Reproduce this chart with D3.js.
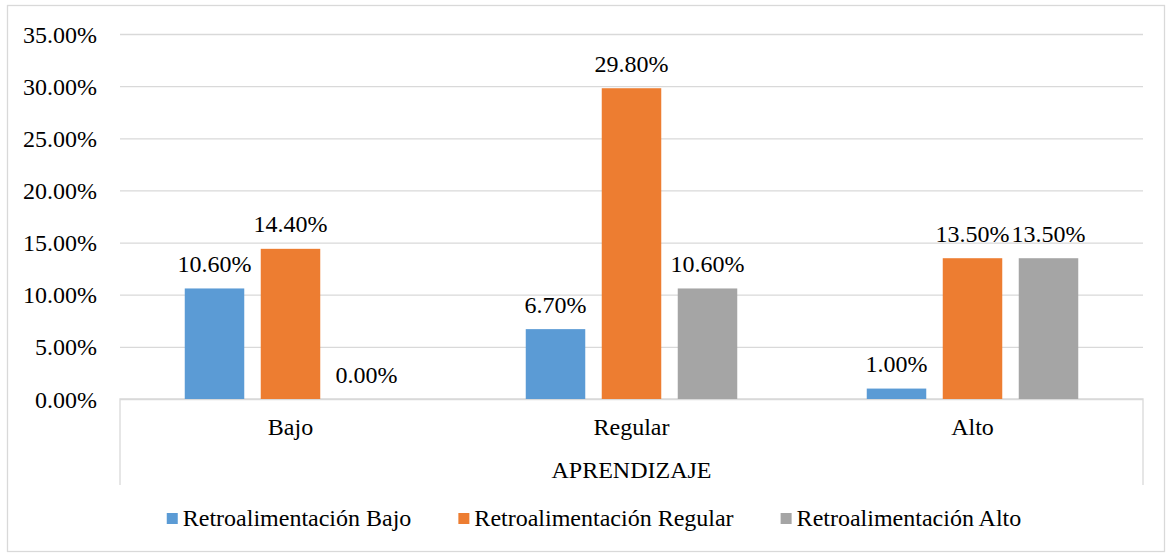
<!DOCTYPE html>
<html>
<head>
<meta charset="utf-8">
<script src="https://cdn.jsdelivr.net/npm/d3@7"></script>
</head>
<body style="margin:0; background:#fff">
<script>
const categories = ["Bajo", "Regular", "Alto"]
const seriesNames = ["Retroalimentación Bajo", "Retroalimentación Regular", "Retroalimentación Alto"]
const seriesColors = ["#5B9BD5", "#ED7D31", "#A5A5A5"]
// values per category (Bajo, Regular, Alto), in percent
const retroBajo = [10.6, 6.7, 1.0]
const retroRegular = [14.4, 29.8, 13.5]
const retroAlto = [0.0, 10.6, 13.5]
const yTicks = [0, 5, 10, 15, 20, 25, 30, 35]
const axisTitle = "APRENDIZAJE"

const seriesValues = [retroBajo, retroRegular, retroAlto]

const W = 1166
const H = 553
const plot = { left: 120, right: 1143, top: 34, bottom: 399 }
const gridColor = "#D9D9D9"
// text is set at 28px and scaled down to ~24px on screen
const k = 24 / 28

function serif(sel) {
  sel.style("font-family", '"Liberation Serif"')
    .attr("font-size", "28px")
    .attr("fill", "#000")
}

// place a text at (x, y) through a transform instead of x/y
function at(sel, fx, fy) {
  sel.attr("transform", (d, i) => `translate(${fx(d, i)},${fy(d, i)}) scale(${k})`)
}

const svg = d3.select("body")
  .append("svg")
  .attr("width", W)
  .attr("height", H)

// outer chart border
svg.append("rect")
  .attr("x", 7.5).attr("y", 5.5)
  .attr("width", 1157).attr("height", 546)
  .attr("fill", "none")
  .attr("stroke", gridColor)
  .attr("stroke-width", 1.3)

const yScale = d3.scaleLinear()
  .domain([0, 35])
  .range([plot.bottom, plot.top])

const x0 = d3.scaleBand()
  .domain(categories)
  .range([plot.left, plot.right])

// bars inside each category band (Excel gap width ~218%)
const groupPad = 64.75
const x1 = d3.scaleBand()
  .domain(d3.range(seriesNames.length))
  .range([groupPad, x0.bandwidth() - groupPad])
  .paddingInner(0.217)

// y axis: gridlines + labels
const yAxis = svg.append("g")
  .attr("transform", `translate(${plot.left},0)`)
  .call(d3.axisLeft(yScale)
    .tickValues(yTicks)
    .tickSize(-(plot.right - plot.left))
    .tickFormat(d => d.toFixed(2) + "%"))

yAxis.attr("font-family", null).attr("font-size", null)
yAxis.select(".domain").remove()
yAxis.selectAll(".tick line")
  .attr("stroke", gridColor)
  .attr("stroke-width", 1.3)
yAxis.selectAll(".tick text")
  .attr("x", null)
  .attr("dy", null)
  .call(serif)
  .call(at, () => -23, () => 8)

// category axis box
svg.append("path")
  .attr("d", `M${plot.left},485 V${plot.bottom} H${plot.right} V485`)
  .attr("fill", "none")
  .attr("stroke", gridColor)
  .attr("stroke-width", 1.3)

// bars
const groups = svg.selectAll("g.cat")
  .data(categories)
  .enter()
  .append("g")
  .attr("class", "cat")
  .attr("transform", d => `translate(${x0(d)},0)`)

groups.selectAll("rect")
  .data((d, ci) => seriesValues.map((vals, si) => ({ si, v: vals[ci] })))
  .enter()
  .append("rect")
  .attr("x", d => x1(d.si))
  .attr("y", d => yScale(d.v))
  .attr("width", x1.bandwidth())
  .attr("height", d => yScale(0) - yScale(d.v))
  .attr("fill", d => seriesColors[d.si])

groups.selectAll("text.val")
  .data((d, ci) => seriesValues.map((vals, si) => ({ si, v: vals[ci] })))
  .enter()
  .append("text")
  .attr("class", "val")
  .attr("text-anchor", "middle")
  .call(serif)
  .call(at, d => x1(d.si) + x1.bandwidth() / 2, d => yScale(d.v) - 16.5)
  .text(d => d.v.toFixed(2) + "%")

// category labels
svg.selectAll("text.cat")
  .data(categories)
  .enter()
  .append("text")
  .attr("class", "cat")
  .attr("text-anchor", "middle")
  .call(serif)
  .call(at, d => x0(d) + x0.bandwidth() / 2, () => 435)
  .text(d => d)

svg.append("text")
  .attr("text-anchor", "middle")
  .call(serif)
  .call(at, () => (plot.left + plot.right) / 2, () => 478)
  .text(axisTitle)

// legend
const legend = svg.append("g")
const items = legend.selectAll("g")
  .data(seriesNames)
  .enter()
  .append("g")

items.append("rect")
  .attr("width", 11).attr("height", 11)
  .attr("y", 513)
  .attr("fill", (d, i) => seriesColors[i])

items.append("text")
  .call(serif)
  .call(at, () => 16, () => 526)
  .text(d => d)

let widths = []
items.each(function () { widths.push(this.getBBox().width) })
const gap = 47
const total = d3.sum(widths) + gap * (widths.length - 1)
let xPos = 594 - total / 2
items.each(function (d, i) {
  d3.select(this).attr("transform", `translate(${xPos},0)`)
  xPos += widths[i] + gap
})
</script>
</body>
</html>
